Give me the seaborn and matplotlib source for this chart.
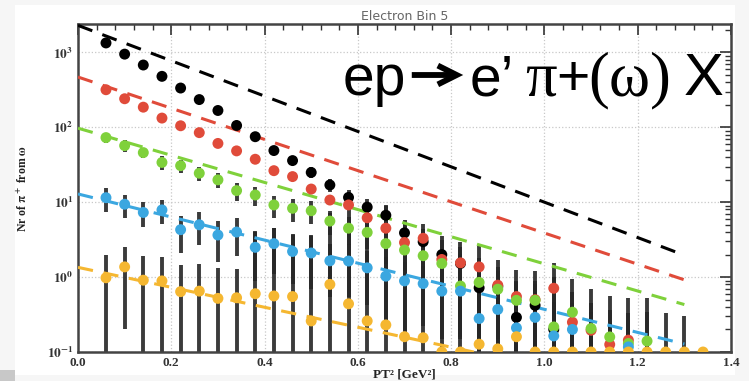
import numpy as np
import pandas as pd
import matplotlib
matplotlib.use("Agg")
import matplotlib.pyplot as plt
import matplotlib.patches as mpatches
from matplotlib.ticker import MultipleLocator, FuncFormatter, LogLocator, NullFormatter
import seaborn as sns

nan = np.nan

# PT^2 bin centres [GeV^2]
pt2 = [0.06, 0.10, 0.14, 0.18, 0.22, 0.26, 0.30, 0.34, 0.38, 0.42, 0.46,
       0.50, 0.54, 0.58, 0.62, 0.66, 0.70, 0.74, 0.78, 0.82, 0.86, 0.90,
       0.94, 0.98, 1.02, 1.06, 1.10, 1.14, 1.18, 1.22, 1.26, 1.30, 1.34]

# Nr of pi+ from omega (5 series)
black = [1340, 950, 680, 480, 335, 235, 168, 106, 75, 49, 36, 25, 17, 11.6,
         8.6, 6.7, 3.9, 2.97, 2.0, 1.52, 0.72, 0.75, 0.29, 0.42, 0.2,
         nan, nan, nan, nan, nan, nan, nan, nan]
red = [318, 241, 186, 133, 105, 85, 61, 48.5, 37.5, 26.4, 22, 15, 10.7, 9.2,
       6.2, 4.5, 2.9, 3.3, 1.72, 1.55, 1.37, 0.78, 0.55, 0.5, 0.71, 0.25,
       0.195, 0.126, 0.144, nan, nan, nan, nan]
green = [73, 57, 46, 34, 30.8, 24.4, 19.9, 14.3, 12.5, 9.2, 8.3, 7.7, 5.6,
         4.5, 3.96, 2.8, 2.3, 1.93, 1.52, 0.76, 0.85, 0.69, 0.49, 0.49, 0.216,
         0.34, 0.206, 0.159, 0.13, 0.14, nan, nan, nan]
blue = [11.5, 9.4, 7.3, 7.9, 4.3, 5.0, 3.65, 4.0, 2.5, 2.8, 2.2, 2.1, 1.65,
        1.64, 1.33, 1.03, 0.89, 0.82, 0.65, 0.65, 0.28, 0.37, 0.21, 0.29,
        0.164, 0.2, nan, nan, 0.117, nan, nan, nan, nan]
yellow = [0.98, 1.37, 0.91, 0.89, 0.64, 0.65, 0.52, 0.53, 0.6, 0.56, 0.55,
          0.26, 0.8, 0.44, 0.26, 0.23, 0.16, 0.155, 0.1, 0.1, 0.127, 0.11,
          0.16, 0.1, 0.1, 0.1, 0.1, 0.1, 0.1, 0.1, 0.1, 0.1, 0.1]

# errors
black_err = [30, 25, 20, 17, 14, 12, 10, 8, 7, 6, 5, 4.2, 3.5, 2.9, 2.5, 2.2,
             1.6, 1.4, 1.1, 1.0, 0.6, 0.6, 0.35, 0.4, 0.25,
             nan, nan, nan, nan, nan, nan, nan, nan]
red_err = [12, 10, 8, 6, 5, 4.5, 3.5, 3, 2.5, 2, 2, 1.6, 1.4, 1.3, 1.1, 0.9,
           0.7, 0.7, 0.5, 0.5, 0.45, 0.35, 0.3, 0.3, 0.3, 0.2, 0.15, 0.12,
           0.12, nan, nan, nan, nan]
green_err = [12, 10, 7, 7, 6, 5, 4.5, 4, 3.5, 3, 2.8, 2.6, 2, 1.8, 1.6, 1.3,
             1.1, 1.0, 0.8, 0.6, 0.6, 0.5, 0.4, 0.4, 0.25, 0.3, 0.25, 0.2,
             0.2, 0.2, nan, nan, nan]
blue_err = [4.0, 3.2, 2.7, 2.8, 2.2, 2.3, 2.05, 2.1, 1.6, 1.7, 1.4, 1.4, 1.1,
            1.1, 0.9, 0.8, 0.7, 0.6, 0.5, 0.5, 0.3, 0.35, 0.25, 0.25, 0.2,
            0.2, nan, nan, 0.15, nan, nan, nan, nan]
yellow_err = [0.99, 1.17, 1.0, 0.98, 0.81, 0.84, 0.79, 0.74, 3.4, 4.0, 3.2,
              3.4, 6.3, 7.4, 6.1, 9.0, 5.7, 4.9, 3.4, 2.8, 2.5, 1.58, 1.1,
              1.1, 1.45, 0.83, 0.59, 0.46, 0.42, 0.42, 0.23, 0.2, 0.0]

# exponential fits, drawn between their end points (straight on log scale)
fit_x = [0.0, 1.3]
fit_black = [2300, 1.96]
fit_red = [470, 0.92]
fit_green = [97.5, 0.43]
fit_blue = [12.9, 0.128]
fit_yellow = [1.35, 0.025]

names = ['black', 'red', 'green', 'blue', 'yellow']
colors = {'black': '#000000', 'red': '#e04b3a', 'green': '#7fd13b',
          'blue': '#3ba7e0', 'yellow': '#f5b731'}
values = [black, red, green, blue, yellow]
errors = [black_err, red_err, green_err, blue_err, yellow_err]
fits = [fit_black, fit_red, fit_green, fit_blue, fit_yellow]

rows = []
for nm, v, e in zip(names, values, errors):
    for x, y, dy in zip(pt2, v, e):
        rows.append({'pt2': x, 'n': y, 'err': dy, 'series': nm})
df = pd.DataFrame(rows).dropna(subset=['n'])

sns.set_style("white")
plt.rcParams['font.family'] = ['Liberation Sans', 'DejaVu Sans']
plt.rcParams['mathtext.fontset'] = 'stix'

fig = plt.figure(figsize=(7.49, 3.81), dpi=100, facecolor='#f6f6f6')
fig.patches.append(mpatches.Rectangle((15/749, 6/381), 720/749, 370/381,
                                      transform=fig.transFigure,
                                      facecolor='white', edgecolor='none', zorder=-10))
fig.patches.append(mpatches.Rectangle((0, 0), 15/749, 11/381,
                                      transform=fig.transFigure,
                                      facecolor='#c8c8c8', edgecolor='none', zorder=-9))
ax = fig.add_axes([78/749, 29/381, 653/749, 328/381])
ax.set_yscale('log')

# error bars (below points)
for nm in names:
    d = df[df['series'] == nm].dropna(subset=['err'])
    lo = d['n'] - np.maximum(d['n'] - d['err'], 1e-3)
    ax.errorbar(d['pt2'], d['n'], yerr=[lo, d['err']], fmt='none',
                ecolor='#262626', elinewidth=2.8, alpha=0.9, zorder=2)

# fits
for nm, f in zip(names, fits):
    sns.lineplot(x=fit_x, y=f, color=colors[nm], ax=ax, lw=2.2,
                 linestyle=(0, (5, 3.5)), zorder=3)

sns.scatterplot(data=df, x='pt2', y='n', hue='series', palette=colors,
                hue_order=names, s=62, edgecolor='none', legend=False,
                ax=ax, zorder=4)

ax.set_xlim(0, 1.4)
ax.set_ylim(0.1, 2400)
ax.xaxis.set_major_locator(MultipleLocator(0.2))
ax.xaxis.set_minor_locator(MultipleLocator(0.04))
ax.yaxis.set_major_locator(LogLocator(base=10, numticks=10))
ax.yaxis.set_minor_locator(LogLocator(base=10, subs=np.arange(2, 10), numticks=10))
ax.yaxis.set_minor_formatter(NullFormatter())
ax.yaxis.set_major_formatter(FuncFormatter(
    lambda v, p: r'$\mathbf{10^{%d}}$' % int(round(np.log10(v)))))
ax.xaxis.set_major_formatter(FuncFormatter(lambda v, p: '%.1f' % v))

ax.tick_params(which='both', direction='in', top=True, right=True,
               colors='#333333', labelsize=9.5)
ax.tick_params(which='major', length=8, width=1.2)
ax.tick_params(which='minor', length=4.5, width=1.0)
for lab in ax.get_xticklabels():
    lab.set_family('Liberation Serif')
    lab.set_weight('bold')
ax.grid(True, which='major', linestyle=':', color='#c8c8c8', lw=0.9)
for sp in ax.spines.values():
    sp.set_color('#444444')
    sp.set_linewidth(1.8)

ax.set_xlabel('PT² [GeV²]', family='Liberation Serif', weight='bold',
              fontsize=9.5, color='#222222', labelpad=0)
ax.set_ylabel(r'Nr of $\mathbf{\pi^+}$ from $\mathbf{\omega}$',
              family='Liberation Serif', weight='bold', fontsize=8.5,
              color='#222222', labelpad=12)
ax.set_title('Electron Bin 5', fontsize=9, color='#666666', pad=3,
             family='DejaVu Sans')

# big reaction label: sans letters, serif greek, thick arrow
base = 381 - 95
pieces = [(343, 'ep', 'Liberation Sans', 41),
          (470, 'e\u2019', 'Liberation Sans', 41),
          (525, '\u03c0', 'Liberation Serif', 45),
          (556, '+', 'Liberation Sans', 41),
          (588, '(\u03c9)', 'Liberation Serif', 45),
          (684, 'X', 'Liberation Sans', 43)]
for xp, txt, fam, fs in pieces:
    fig.text(xp / 749, base / 381, txt, ha='left', va='baseline',
             fontsize=fs, family=fam, color='black')
arrow = mpatches.FancyArrowPatch((409 / 749, 306 / 381), (466 / 749, 306 / 381),
                                 transform=fig.transFigure, arrowstyle='->',
                                 mutation_scale=34, lw=4.2, color='black',
                                 joinstyle='miter', capstyle='butt')
fig.patches.append(arrow)

fig.savefig('out.png', dpi=100, facecolor=fig.get_facecolor())
